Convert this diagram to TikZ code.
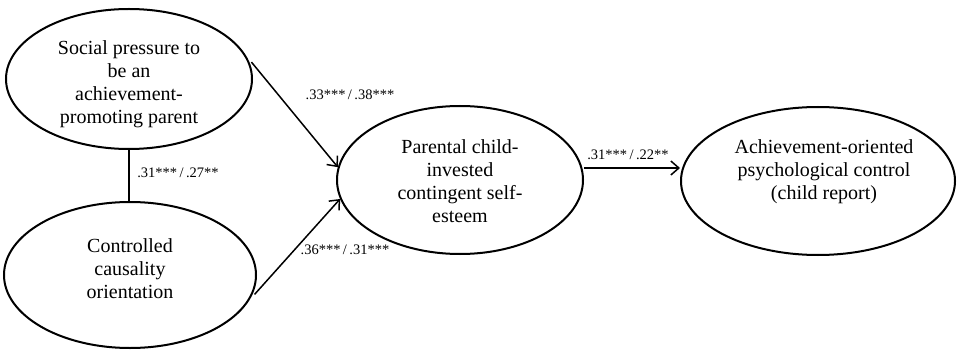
\documentclass[tikz,border=0pt]{standalone}
\usepackage{fontspec}
\setmainfont{Liberation Serif}
\usetikzlibrary{shapes.geometric,arrows.meta}
\begin{document}
\begin{tikzpicture}[x=1pt,y=1pt,
  latent/.style={ellipse,draw,line width=2pt,inner sep=0pt},
  txt/.style={align=center,font=\fontsize{20}{23}\selectfont,inner sep=0pt},
  coef/.style={font=\fontsize{14.5}{16}\selectfont,inner sep=0pt},
  path/.style={line width=1.5pt,-{Straight Barb[length=8pt,width=14pt,line width=1.5pt]}},
  corr/.style={line width=1.8pt}]
\useasboundingbox (0,0) rectangle (960,351);
\node[latent,minimum width=246pt,minimum height=140pt] (e1) at (129,272) {};
\node[latent,minimum width=252pt,minimum height=146pt] (e2) at (130,76) {};
\node[latent,minimum width=246pt,minimum height=148pt] (e3) at (460,171) {};
\node[latent,minimum width=274pt,minimum height=148pt] (e4) at (818,170) {};
\node[txt] (t1) at (129,267) {Social pressure to\\be an\\achievement-\\promoting parent};
\node[txt] (t2) at (130,82) {Controlled\\causality\\orientation};
\node[txt] (t3) at (460,170) {Parental child-\\invested\\contingent self-\\esteem};
\node[txt] (t4) at (824,179) {Achievement-oriented\\psychological control\\(child report)};
\draw[corr] (e1.south) -- (e1.south |- e2.north);
\draw[path] ([shift={(2pt,0pt)}]e1.8) -- (e3.174);
\draw[path] ([shift={(2pt,0pt)}]e2.-9) -- (e3.189);
\draw[path] ([yshift=12pt]e3.east) -- ([yshift=12pt]e3.east -| e4.west);
\node[coef] (c1) at (178,178) {.31***\,/\,.27**};
\node[coef] (c2) at (350,256) {.33***\,/\,.38***};
\node[coef] (c3) at (345,101) {.36***\,/\,.31***};
\node[coef] (c4) at (628,196) {.31***\,/\,.22**};
\end{tikzpicture}
\end{document}
